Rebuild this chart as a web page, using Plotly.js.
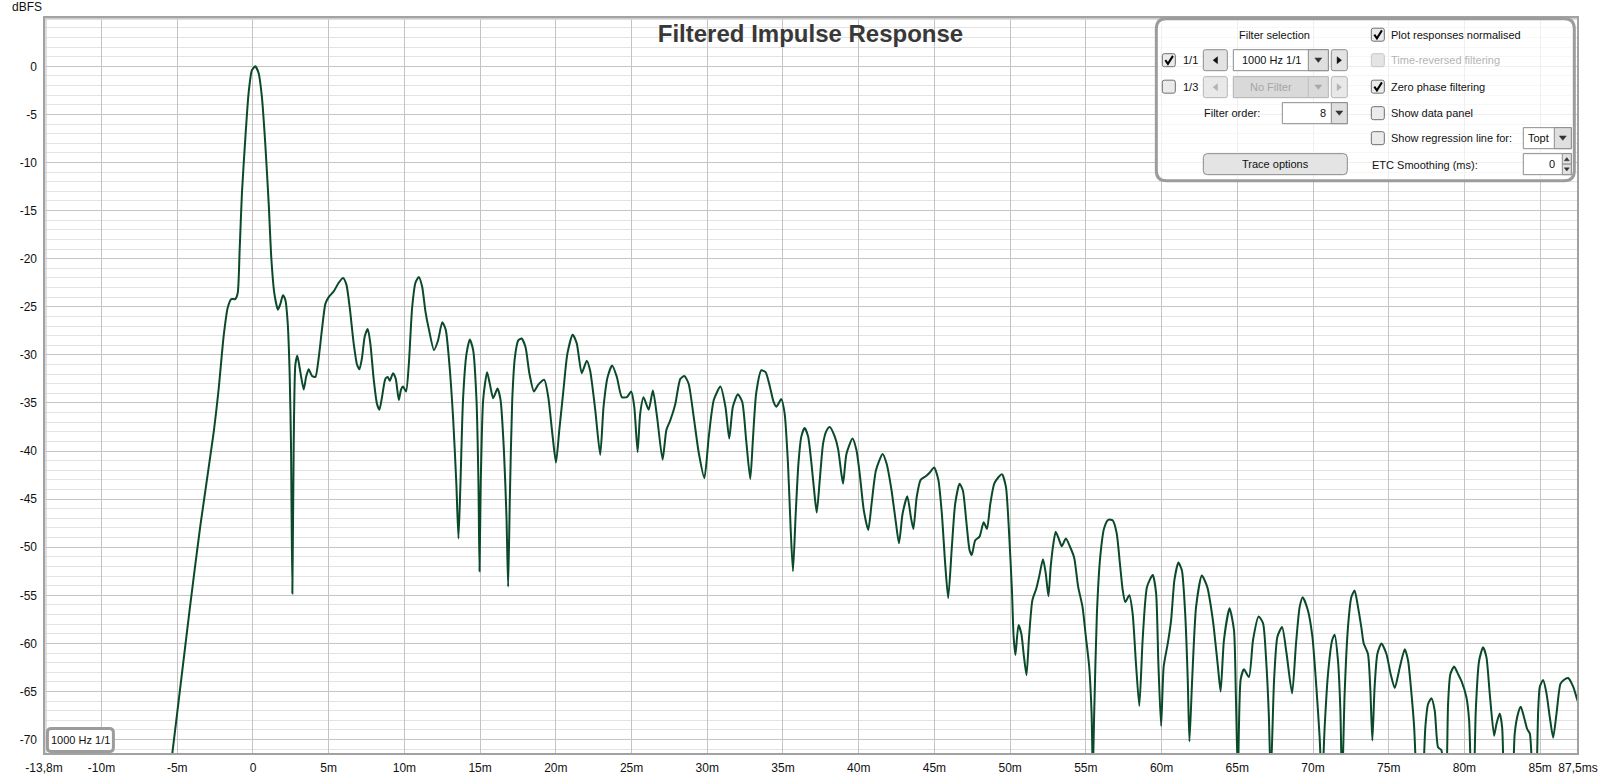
<!DOCTYPE html>
<html>
<head>
<meta charset="utf-8">
<script src="https://cdn.plot.ly/plotly-3.0.1.min.js"></script>
<style>html,body{margin:0;padding:0;background:#fff;}#chart{width:1600px;height:779px;}</style>
</head>
<body>
<div id="chart"></div>
<script>
// ---- data ----
const timeMs = [
-5.6,-4.19,-3.48,-2.60,-2.27,-1.94,-1.67,-1.43,-1.17,-1.01,-0.88,-0.73,-0.51,-0.29,-0.07,0.15,0.37,0.59,0.81,1.04,
1.21,1.41,1.65,1.81,1.98,2.14,2.29,2.42,2.51,2.60,2.69,2.80,2.93,3.13,3.35,3.52,3.68,3.90,4.12,4.34,
4.56,4.78,5.00,5.33,5.66,5.95,6.17,6.39,6.65,6.87,7.03,7.20,7.38,7.58,7.75,7.97,8.19,8.35,8.52,8.74,
8.90,9.03,9.25,9.43,9.63,9.78,9.91,10.11,10.29,10.51,10.73,10.95,11.17,11.39,11.61,11.95,12.22,12.5,12.73,12.95,
13.21,13.43,13.57,13.70,13.87,14.1,14.32,14.54,14.76,14.89,14.96,15.04,15.2,15.46,15.64,15.86,16.15,16.35,16.57,16.74,
16.85,16.96,17.12,17.3,17.52,17.74,18.0,18.25,18.55,18.84,19.24,19.5,19.79,20.01,20.23,20.5,20.76,21.11,21.38,21.71,
22.04,22.26,22.6,22.93,23.15,23.42,23.72,24.03,24.36,24.69,24.98,25.18,25.4,25.57,25.79,26.13,26.41,26.68,27.05,27.3,
27.56,27.89,28.22,28.49,28.77,29.1,29.44,29.81,30.1,30.43,30.87,31.2,31.45,31.69,32.02,32.31,32.57,32.84,33.01,33.23,
33.57,33.85,34.12,34.38,34.56,34.89,35.11,35.33,35.51,35.66,35.84,36.02,36.21,36.43,36.66,36.88,37.1,37.23,37.43,37.65,
37.87,38.09,38.42,38.64,38.86,38.97,39.19,39.59,39.85,40.07,40.34,40.63,40.85,41.14,41.58,41.84,42.17,42.46,42.66,42.9,
43.21,43.45,43.61,43.83,44.09,44.45,44.71,44.98,45.26,45.49,45.71,45.91,46.15,46.37,46.66,46.88,47.1,47.32,47.47,47.69,
47.98,48.25,48.47,48.69,48.95,49.24,49.46,49.72,49.92,50.12,50.23,50.35,50.55,50.74,50.9,51.08,51.25,51.47,51.73,51.91,
52.17,52.35,52.53,52.68,52.86,53.01,53.23,53.41,53.68,53.94,54.23,54.49,54.78,55.0,55.22,55.38,55.46,55.55,55.73,55.95,
56.21,56.48,56.77,57.03,57.25,57.43,57.6,57.87,58.09,58.31,58.53,58.75,59.04,59.42,59.64,59.79,59.97,60.14,60.41,60.63,
60.85,61.11,61.34,61.56,61.73,61.84,62.02,62.28,62.66,63.01,63.39,63.72,63.9,64.12,64.49,64.78,64.91,65.04,65.22,65.44,
65.77,66.04,66.41,66.7,66.92,67.08,67.21,67.43,67.65,67.96,68.25,68.62,68.88,69.12,69.32,69.67,69.96,70.22,70.44,70.59,
70.77,70.99,71.26,71.43,71.65,71.81,71.92,72.09,72.31,72.53,72.75,72.97,73.19,73.35,73.63,73.79,73.92,74.07,74.25,74.52,
74.85,75.13,75.4,75.73,76.06,76.28,76.5,76.68,76.83,77.05,77.27,77.42,77.6,77.82,78.04,78.26,78.48,78.63,78.78,78.92,
79.07,79.32,79.58,79.8,80.13,80.31,80.46,80.55,80.64,80.75,80.97,81.23,81.45,81.67,81.96,82.11,82.33,82.49,82.6,82.9,
83.21,83.32,83.54,83.72,83.94,84.14,84.32,84.49,84.62,84.76,84.87,84.98,85.2,85.42,85.64,85.86,86.08,86.34,86.56,86.85,
87.18,87.44,87.6
];
const levelDb = [
-75,-56.6,-47.8,-38.1,-33.6,-28.1,-25.1,-24.2,-24.2,-23.6,-19.1,-13.2,-7.6,-2.8,-0.4,0,-0.7,-3.2,-8.0,-14.3,
-19.9,-23.6,-25.3,-24.7,-23.8,-24.3,-26.6,-31.8,-39.2,-54.8,-39.2,-31.0,-30.1,-31.8,-33.6,-32.2,-31.5,-32.2,-32.3,-30.3,
-27.3,-24.7,-24.0,-23.4,-22.5,-22.0,-22.7,-25.1,-28.8,-31.0,-31.5,-30.3,-28.1,-27.3,-28.8,-32.5,-35.1,-35.7,-34.4,-32.5,
-32.3,-32.7,-31.9,-32.5,-34.7,-33.6,-33.3,-33.8,-31.0,-25.1,-22.5,-21.9,-22.9,-25.5,-27.3,-29.5,-28.5,-26.6,-27.4,-30.6,
-36.4,-43.4,-49.1,-43.4,-34.7,-29.9,-28.4,-29.5,-34.7,-43.4,-52.5,-43.4,-34.7,-31.8,-33.0,-34.5,-33.5,-34.7,-39.9,-46.8,
-54.1,-45.1,-34.7,-30.2,-28.5,-28.3,-29.2,-31.9,-33.8,-33.1,-32.6,-34.4,-38.5,-41.2,-37.8,-33.7,-29.9,-27.9,-28.8,-31.9,
-30.6,-31.6,-35.7,-40.4,-35.4,-32.3,-31.1,-32.3,-34.4,-34.4,-33.8,-35.4,-40.1,-36.1,-34.4,-35.7,-33.7,-36.4,-40.9,-37.8,
-36.8,-35.1,-32.5,-32.2,-33.0,-36.4,-40.2,-42.8,-38.5,-34.7,-33.3,-35.4,-38.7,-35.4,-34.1,-34.9,-38.9,-42.9,-38.9,-34.0,
-31.6,-31.8,-33.2,-34.9,-35.4,-34.6,-36.1,-41.3,-48.2,-52.5,-46.5,-41.3,-38.5,-37.6,-38.5,-41.3,-44.8,-46.4,-43.0,-39.2,
-37.9,-37.5,-38.5,-39.8,-42.4,-43.4,-40.3,-38.7,-39.9,-42.4,-46.2,-48.2,-45.5,-42.0,-40.3,-41.3,-44.1,-47.5,-49.6,-46.5,
-44.7,-46.9,-48.1,-44.8,-43.0,-42.6,-42.2,-41.7,-43.0,-46.5,-51.7,-55.3,-50.0,-45.5,-43.4,-44.1,-47.2,-50.3,-50.8,-49.3,
-48.9,-47.4,-48.1,-45.5,-43.4,-42.7,-42.4,-43.7,-48.2,-54.5,-59.3,-61.2,-58.1,-59.0,-61.2,-63.3,-59.3,-55.5,-54.3,-53.1,
-51.25,-52.7,-55.1,-52.0,-49.6,-48.4,-49.2,-49.9,-49.1,-49.9,-51.1,-54.1,-56.2,-59.3,-62.4,-67.3,-73.5,-67.3,-56.9,-51.0,
-48.0,-47.15,-47.2,-48.5,-51.7,-54.4,-55.7,-55.0,-56.9,-62.1,-66.5,-59.65,-54.1,-52.9,-54.8,-62.1,-68.6,-62.4,-60.0,-57.6,
-53.4,-51.6,-52.4,-56.9,-63.8,-70.2,-63.8,-56.2,-52.95,-54.1,-57.6,-62.4,-65.0,-59.65,-56.35,-58.6,-65.6,-74,-63.8,-62.7,
-63.5,-59.65,-57.2,-57.9,-62.1,-67.3,-74,-63.8,-59.3,-58.3,-61.0,-65.2,-60.0,-56.2,-55.2,-56.6,-59.3,-64.5,-69.8,-75,
-68.7,-63.2,-59.7,-59.1,-61.8,-67.0,-75,-65.2,-58.3,-55.2,-54.5,-56.2,-58.3,-60.0,-61.1,-64.9,-70.1,-64.5,-61.1,-60.0,
-61.1,-63.2,-64.65,-62.5,-60.6,-61.8,-65.2,-68.7,-74,-78,-74,-68.7,-66.3,-65.7,-67.0,-70.8,-71.1,-74,-75,-66.3,
-63.2,-62.4,-63.2,-63.9,-65.6,-68.0,-75,-76,-74,-67.0,-61.8,-60.4,-61.4,-65.2,-69.6,-68.4,-67.3,-68.7,-74,-80,
-74,-69.4,-67.3,-66.6,-67.7,-68.9,-69.4,-74,-77,-74,-67.0,-64.5,-63.8,-65.2,-67.7,-69.8,-67.3,-64.2,-63.8,-63.6,
-64.5,-65.8,-66.5
];
const xTickVals = [-13.8,-10,-5,0,5,10,15,20,25,30,35,40,45,50,55,60,65,70,75,80,85,87.5];
const xTickText = ['-13,8m','-10m','-5m','0','5m','10m','15m','20m','25m','30m','35m','40m','45m','50m','55m','60m','65m','70m','75m','80m','85m','87,5ms'];
const yTickVals = [5,0,-5,-10,-15,-20,-25,-30,-35,-40,-45,-50,-55,-60,-65,-70];
const yTickText = ['','0','-5','-10','-15','-20','-25','-30','-35','-40','-45','-50','-55','-60','-65','-70'];
const traceName = '1000 Hz 1/1';
const chartTitle = 'Filtered Impulse Response';
const yUnit = 'dBFS';

// ---- geometry helpers (pixel -> paper) ----
const W=1600,H=779,ML=43.6,MR=22.3,MT=17.3,MB=24.5;
const PW=W-ML-MR, PH=H-MT-MB;
const fx = x => (x-ML)/PW;
const fy = y => (H-MB-y)/PH;
const FONT = 'Liberation Sans, Arial, sans-serif';
const shapes = [], annotations = [];

function rrPath(x0,y0,x1,y1,r){
  return `M${fx(x0+r)},${fy(y0)} L${fx(x1-r)},${fy(y0)} Q${fx(x1)},${fy(y0)} ${fx(x1)},${fy(y0+r)} `+
         `L${fx(x1)},${fy(y1-r)} Q${fx(x1)},${fy(y1)} ${fx(x1-r)},${fy(y1)} `+
         `L${fx(x0+r)},${fy(y1)} Q${fx(x0)},${fy(y1)} ${fx(x0)},${fy(y1-r)} `+
         `L${fx(x0)},${fy(y0+r)} Q${fx(x0)},${fy(y0)} ${fx(x0+r)},${fy(y0)} Z`;
}
function rr(x0,y0,x1,y1,r,fill,stroke,w){
  shapes.push({type:'path',xref:'paper',yref:'paper',layer:'above',path:rrPath(x0,y0,x1,y1,r),
    fillcolor:fill,line:{color:stroke,width:w}});
}
function rect(x0,y0,x1,y1,fill,stroke,w){
  shapes.push({type:'rect',xref:'paper',yref:'paper',layer:'above',x0:fx(x0),x1:fx(x1),y0:fy(y1),y1:fy(y0),
    fillcolor:fill,line:{color:stroke,width:w}});
}
function line(x0,y0,x1,y1,color,w){
  shapes.push({type:'line',xref:'paper',yref:'paper',layer:'above',x0:fx(x0),x1:fx(x1),y0:fy(y0),y1:fy(y1),
    line:{color:color,width:w}});
}
function poly(pts,fill){
  let p = pts.map((q,i)=>(i?'L':'M')+fx(q[0])+','+fy(q[1])).join(' ')+' Z';
  shapes.push({type:'path',xref:'paper',yref:'paper',layer:'above',path:p,fillcolor:fill,line:{color:fill,width:0.5}});
}
function tri(cx,cy,dir,color){
  const a=3.5,b=2.2;
  if(dir==='left')  poly([[cx+b,cy-a],[cx+b,cy+a],[cx-b,cy]],color);
  if(dir==='right') poly([[cx-b,cy-a],[cx-b,cy+a],[cx+b,cy]],color);
  if(dir==='down')  poly([[cx-a,cy-b],[cx+a,cy-b],[cx,cy+b]],color);
  if(dir==='up')    poly([[cx-a,cy+b],[cx+a,cy+b],[cx,cy-b]],color);
}
function smallTri(cx,cy,dir,color){
  const a=2.5,b=1.6;
  if(dir==='down')  poly([[cx-a,cy-b],[cx+a,cy-b],[cx,cy+b]],color);
  if(dir==='up')    poly([[cx-a,cy+b],[cx+a,cy+b],[cx,cy-b]],color);
}
function txt(x,y,s,anchor,color,size){
  annotations.push({xref:'paper',yref:'paper',x:fx(x),y:fy(y),xanchor:anchor||'left',yanchor:'middle',
    text:s,showarrow:false,font:{family:FONT,size:size||11,color:color||'#111'}});
}
function checkbox(x,yc,checked,disabled){
  const y0=yc-6.5;
  rr(x,y0,x+13,y0+13,2,disabled?'#e4e4e4':'#ebebeb',disabled?'#c6c6c6':'#6f6f6f',1);
  if(checked){
    shapes.push({type:'path',xref:'paper',yref:'paper',layer:'above',
      path:`M${fx(x+3)},${fy(y0+6.5)} L${fx(x+5.6)},${fy(y0+10.2)} L${fx(x+10.6)},${fy(y0+2.2)}`,
      fillcolor:'rgba(0,0,0,0)',line:{color:'#000',width:2}});
  }
}

// ---- plot frame ----
shapes.push({type:'rect',xref:'paper',yref:'paper',layer:'above',x0:0,x1:1,y0:0,y1:1,line:{color:'#a2a2a2',width:2},fillcolor:'rgba(0,0,0,0)'});
line(ML+1,MT+2,W-MR-1,MT+2,'#d2d2d2',1.5);
line(ML+2,MT+1,ML+2,H-MB-1,'#d2d2d2',1.5);

// ---- control panel ----
rr(1156,19,1574,181,10,'rgba(255,255,255,0.72)','#9c9c9c',3);
txt(1274,35,'Filter selection','center');
// row 1
checkbox(1162,60.5,true,false);
txt(1181,60.5,'1/1');
rr(1203,50,1227,71,2,'#e3e3e3','#8c8c8c',1); tri(1215,60.5,'left','#111');
rect(1233,50,1328,71,'#ffffff','#8c8c8c',1);
rect(1308,50,1328,71,'#dfdfdf','#8c8c8c',1); tri(1318,60.5,'down','#333');
txt(1271,60.5,'1000 Hz 1/1','center');
rr(1331,50,1347,71,2,'#e3e3e3','#8c8c8c',1); tri(1339,60.5,'right','#111');
// row 2 (disabled)
checkbox(1162,87,false,false);
txt(1181,87,'1/3');
rr(1203,77,1227,98,2,'#e8e8e8','#b6b6b6',1); tri(1215,87.5,'left','#b2b2b2');
rect(1233,77,1328,98,'#d9d9d9','#b2b2b2',1);
line(1308,77,1308,98,'#bdbdbd',1); tri(1318,87.5,'down','#a8a8a8');
txt(1271,87.5,'No Filter','center','#a6a6a6');
rr(1331,77,1347,98,2,'#e8e8e8','#b6b6b6',1); tri(1339,87.5,'right','#b2b2b2');
// filter order
txt(1202,113.5,'Filter order:');
rect(1282,103,1347,124,'#ffffff','#8c8c8c',1);
rect(1331,103,1347,124,'#dfdfdf','#8c8c8c',1); tri(1339,113.5,'down','#333');
txt(1328,113.5,'8','right');
// trace options button
rr(1203,154,1347,175,4,'#e4e4e4','#8a8a8a',1);
txt(1275,164.5,'Trace options','center');
// right column
checkbox(1371,35,true,false);     txt(1389,35,'Plot responses normalised');
checkbox(1371,60.5,false,true);   txt(1389,60.5,'Time-reversed filtering','left','#b4b4b4');
checkbox(1371,87,true,false);     txt(1389,87,'Zero phase filtering');
checkbox(1371,113.5,false,false); txt(1389,113.5,'Show data panel');
checkbox(1371,138.5,false,false); txt(1389,138.5,'Show regression line for:');
rect(1523,128,1571,149,'#ffffff','#8c8c8c',1);
rect(1554,128,1571,149,'#dfdfdf','#8c8c8c',1); tri(1562.5,138.5,'down','#333');
txt(1538.5,138.5,'Topt','center');
txt(1370,165,'ETC Smoothing (ms):');
rect(1523,154,1571,175,'#ffffff','#8c8c8c',1);
rect(1562,154,1571,164.5,'#e2e2e2','#8c8c8c',1); smallTri(1566.5,159.5,'up','#333');
rect(1562,164.5,1571,175,'#e2e2e2','#8c8c8c',1); smallTri(1566.5,169.8,'down','#333');
txt(1557,164.5,'0','right');

// ---- legend box ----
rr(47,729,113,752,4,'#ffffff','#9c9c9c',3);
txt(80,740.5,traceName,'center','#111',11);

// ---- y unit ----
txt(10,7.5,yUnit,'left','#111',12);

const trace = {
  x: timeMs, y: levelDb, type:'scatter', mode:'lines', name: traceName,
  line:{color:'#0a4a2a', width:2, shape:'spline', smoothing:0.6},
  hoverinfo:'skip'
};

const layout = {
  width:W, height:H,
  margin:{l:ML,r:MR,t:MT,b:MB,pad:0},
  paper_bgcolor:'#ffffff', plot_bgcolor:'#ffffff',
  showlegend:false,
  title:{text:chartTitle, x:810.5/W, xref:'container', y:1-34/H, yref:'container', xanchor:'center', yanchor:'middle',
         font:{family:FONT,size:24,color:'#383838',weight:'bold'}},
  xaxis:{range:[-13.8,87.5], tickmode:'array', tickvals:xTickVals, ticktext:xTickText,
         showgrid:true, gridcolor:'#c4c4c4', gridwidth:1, zeroline:false, showline:false,
         ticks:'', ticklabelstandoff:5, tickfont:{family:FONT,size:12,color:'#111'}, fixedrange:true},
  yaxis:{range:[-71.5,5.13], tickmode:'array', tickvals:yTickVals, ticktext:yTickText,
         showgrid:true, gridcolor:'#c4c4c4', gridwidth:1, zeroline:false, showline:false,
         ticks:'', ticklabelstandoff:6, tickfont:{family:FONT,size:12,color:'#111'}, fixedrange:true,
         minor:{tickmode:'linear', tick0:0, dtick:1, showgrid:true, gridcolor:'#e3e3e3', gridwidth:1, ticks:''}},
  shapes:shapes, annotations:annotations
};

Plotly.newPlot('chart',[trace],layout,{displayModeBar:false,staticPlot:true});
</script>
</body>
</html>
